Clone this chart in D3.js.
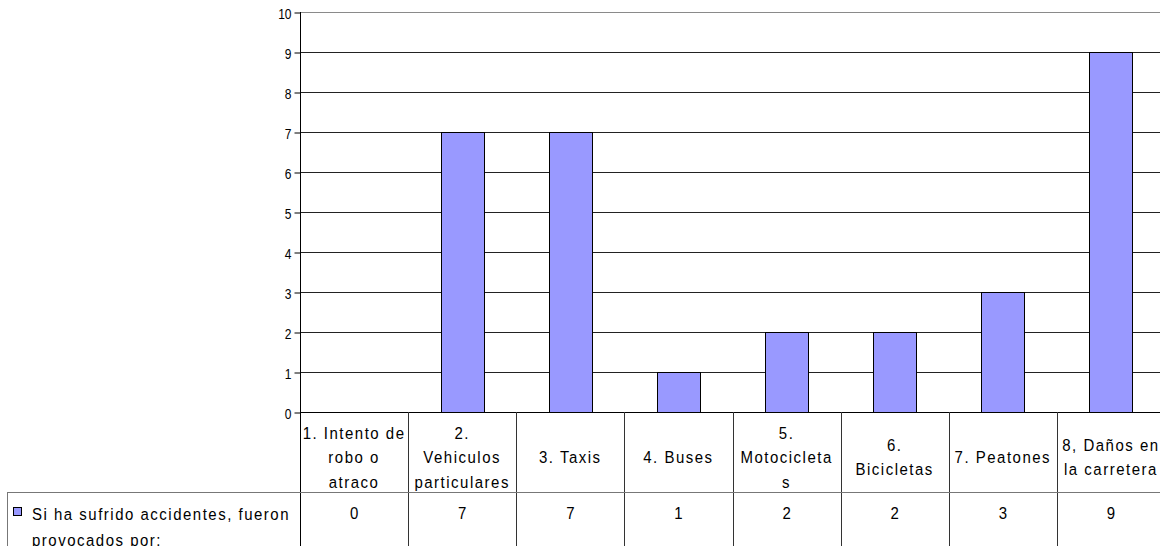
<!DOCTYPE html>
<html>
<head>
<meta charset="utf-8">
<script src="https://cdn.jsdelivr.net/npm/d3@7"></script>
<style>
  html, body { margin: 0; padding: 0; background: #fff; }
  svg { display: block; font-family: "Liberation Sans", Arial, sans-serif; }
</style>
</head>
<body>
<svg id="chart" width="1160" height="546"></svg>
<script>
const categories = [
  ["1. Intento de", "robo o", "atraco"],
  ["2.", "Vehiculos", "particulares"],
  ["3. Taxis"],
  ["4. Buses"],
  ["5.", "Motocicleta", "s"],
  ["6.", "Bicicletas"],
  ["7. Peatones"],
  ["8, Daños en", "la carretera"]
];
const values = [0, 7, 7, 1, 2, 2, 3, 9];
const seriesName = ["Si ha sufrido accidentes, fueron", "provocados por:"];
const yTicks = [0, 1, 2, 3, 4, 5, 6, 7, 8, 9, 10];

const svg = d3.select("#chart");
const pLeft = 300, pRight = 1165, pTop = 12, pBottom = 412;
const rowSplit = 492, tableBottom = 560;
const stretch = 1.15;

const x = d3.scaleBand().domain(d3.range(categories.length)).range([pLeft, pRight]).padding(0);
const y = d3.scaleLinear().domain([0, 10]).range([pBottom, pTop]);

function addText(g, tx, ty, str, opts) {
  const t = g.append("text")
    .attr("transform", `translate(${tx},${ty}) scale(1,${stretch})`)
    .attr("dy", "0.35em")
    .attr("font-size", opts.size)
    .attr("text-anchor", opts.anchor || "start")
    .attr("fill", "#000")
    .text(str);
  if (opts.spacing) t.attr("letter-spacing", opts.spacing + "px");
  return t;
}

// gridlines
svg.append("g").selectAll("line").data(yTicks.filter(d => d > 0)).join("line")
  .attr("x1", pLeft).attr("x2", pRight)
  .attr("y1", d => y(d) + 0.5).attr("y2", d => y(d) + 0.5)
  .attr("stroke", d => d === 10 ? "#8a8a8a" : "#222")
  .attr("stroke-width", 1);

// bars
const bw = x.bandwidth() * 0.4;
svg.append("g").selectAll("rect").data(values).join("rect")
  .attr("x", (d, i) => Math.round(x(i) + x.bandwidth() / 2 - bw / 2) + 0.5)
  .attr("y", d => Math.round(y(d)) + 0.5)
  .attr("width", Math.round(bw))
  .attr("height", d => Math.round(y(0)) - Math.round(y(d)))
  .attr("fill", "#9999ff")
  .attr("stroke", "#000")
  .attr("stroke-width", 1);

// y axis
const yAxis = d3.axisLeft(y).tickValues(yTicks).tickSize(6).tickPadding(9).tickFormat(d3.format("d"));
const gy = svg.append("g").attr("transform", `translate(${pLeft + 0.5},0.5)`).call(yAxis);
gy.select(".domain").remove();
gy.selectAll(".tick line").attr("stroke", "#000");
gy.selectAll(".tick text")
  .attr("font-size", 12).attr("fill", "#000")
  .attr("font-family", "'Liberation Sans', Arial, sans-serif")
  .attr("dy", null)
  .attr("transform", `translate(-9,1) scale(1,${stretch})`)
  .attr("x", 0)
  .attr("dy", "0.33em");

// axis vertical line (continues into table)
svg.append("line").attr("x1", pLeft + 0.5).attr("x2", pLeft + 0.5)
  .attr("y1", pTop).attr("y2", tableBottom).attr("stroke", "#000");

// x axis line
svg.append("line").attr("x1", pLeft).attr("x2", pRight)
  .attr("y1", pBottom + 0.5).attr("y2", pBottom + 0.5).attr("stroke", "#000");

// table
const tg = svg.append("g");
tg.selectAll("line.sep").data(d3.range(1, categories.length + 1)).join("line")
  .attr("class", "sep")
  .attr("x1", i => Math.round(x(i) ?? pRight) + 0.5)
  .attr("x2", i => Math.round(x(i) ?? pRight) + 0.5)
  .attr("y1", pBottom).attr("y2", tableBottom)
  .attr("stroke", "#333");
tg.append("line").attr("x1", 7).attr("x2", pRight)
  .attr("y1", rowSplit + 0.5).attr("y2", rowSplit + 0.5).attr("stroke", "#777");
tg.append("line").attr("x1", 7.5).attr("x2", 7.5)
  .attr("y1", rowSplit).attr("y2", tableBottom).attr("stroke", "#777");

// header labels
const lineH = 24.5;
const headCenter = (pBottom + rowSplit) / 2 + 5;
categories.forEach((lines, i) => {
  const cx = x(i) + x.bandwidth() / 2;
  const start = headCenter - (lines.length - 1) * lineH / 2;
  lines.forEach((t, k) => {
    addText(tg, cx, start + k * lineH, t, { size: 15, spacing: 1.5, anchor: "middle" });
  });
});

// values row
values.forEach((v, i) => {
  addText(tg, x(i) + x.bandwidth() / 2, 513, String(v), { size: 15, anchor: "middle" });
});

// legend key
tg.append("rect").attr("x", 13.5).attr("y", 507.5).attr("width", 8).attr("height", 8)
  .attr("fill", "#9999ff").attr("stroke", "#000");
seriesName.forEach((t, k) => {
  addText(tg, 32, 514 + k * 26, t, { size: 15, spacing: 1.5 });
});
</script>
</body>
</html>
